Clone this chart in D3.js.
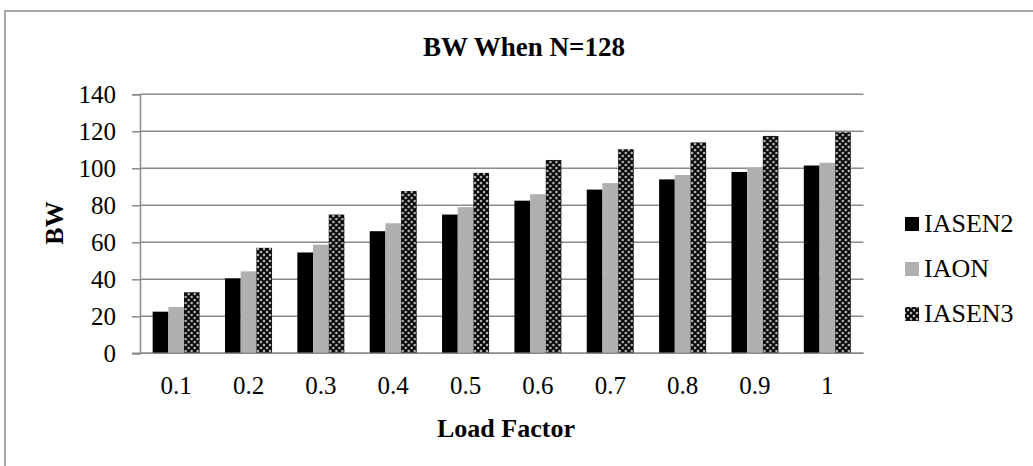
<!DOCTYPE html>
<html>
<head>
<meta charset="utf-8">
<script src="https://cdn.jsdelivr.net/npm/d3@7"></script>
<style>
  html, body { margin: 0; padding: 0; background: #fff; }
  svg { display: block; }
  svg text { font-family: "Liberation Serif", "Times New Roman", serif; fill: #000; }
</style>
</head>
<body>
<svg id="chart" width="1033" height="466"></svg>
<script>
// Bandwidth by load factor for N = 128
const categories = ["0.1", "0.2", "0.3", "0.4", "0.5", "0.6", "0.7", "0.8", "0.9", "1"];
const seriesNames = ["IASEN2", "IAON", "IASEN3"];
const iasen2 = [22.5, 40.5, 54.5, 66, 75, 82.5, 88.5, 94, 98, 101.5];
const iaon   = [25, 44.3, 58.7, 70.3, 79, 86, 92, 96.4, 100.5, 103];
const iasen3 = [33, 57, 75, 87.7, 97.5, 104.5, 110.3, 114, 117.5, 119.5];
const yTicks = [0, 20, 40, 60, 80, 100, 120, 140];

const seriesValues = [iasen2, iaon, iasen3];
const serif = "'Liberation Serif', 'Times New Roman', serif";

const svg = d3.select("#chart");
const plot = { left: 140, right: 863.5, top: 94.3, bottom: 353.3 };

// dark checkered fill for the third series
const defs = svg.append("defs");
const pat = defs.append("pattern")
  .attr("id", "checks")
  .attr("patternUnits", "userSpaceOnUse")
  .attr("width", 6).attr("height", 6);
pat.append("rect").attr("width", 6).attr("height", 6).attr("fill", "#000");
[[0, 0], [6, 0], [0, 6], [6, 6], [3, 3]].forEach(([cx, cy]) => {
  pat.append("circle").attr("cx", cx).attr("cy", cy).attr("r", 1.5).attr("fill", "#777");
  pat.append("circle").attr("cx", cx).attr("cy", cy).attr("r", 0.8).attr("fill", "#fff");
});

const fills = ["#000000", "#b0b0b0", "url(#checks)"];

// outer chart frame
svg.append("path")
  .attr("d", "M1040,11 H5 V470")
  .attr("fill", "none").attr("stroke", "#8a8a8a").attr("stroke-width", 1.5);

const x0 = d3.scaleBand()
  .domain(categories)
  .range([plot.left, plot.right])
  .paddingInner(0.35)
  .paddingOuter(0.175);

const x1 = d3.scaleBand()
  .domain(seriesNames)
  .range([0, x0.bandwidth()]);

const y = d3.scaleLinear()
  .domain([0, 140])
  .range([plot.bottom, plot.top]);

// horizontal gridlines
svg.append("g")
  .selectAll("line")
  .data(yTicks)
  .join("line")
  .attr("x1", plot.left).attr("x2", plot.right)
  .attr("y1", d => y(d)).attr("y2", d => y(d))
  .attr("stroke", "#8a8a8a").attr("stroke-width", 1.5);

// bars
const groups = svg.append("g")
  .selectAll("g")
  .data(categories)
  .join("g")
  .attr("transform", d => `translate(${x0(d)},0)`);

groups.selectAll("rect")
  .data((d, i) => seriesNames.map((s, j) => ({ s, j, v: seriesValues[j][i] })))
  .join("rect")
  .attr("x", d => x1(d.s))
  .attr("width", x1.bandwidth())
  .attr("y", d => y(d.v))
  .attr("height", d => y(0) - y(d.v))
  .attr("fill", d => fills[d.j]);

// y axis
const yAxis = svg.append("g")
  .attr("transform", `translate(${plot.left},0)`)
  .call(d3.axisLeft(y).tickValues(yTicks).tickSize(8).tickPadding(16));
yAxis.select(".domain").attr("stroke", "#8a8a8a").attr("stroke-width", 1.5);
yAxis.selectAll(".tick line").attr("stroke", "#8a8a8a").attr("stroke-width", 1.5);
yAxis.selectAll(".tick text")
  .attr("font-family", serif)
  .attr("font-size", 25).attr("fill", "#000");

// x axis
const xAxis = svg.append("g")
  .attr("transform", `translate(0,${plot.bottom})`)
  .call(d3.axisBottom(x0).tickSize(0).tickPadding(23));
xAxis.select(".domain").remove();
xAxis.selectAll(".tick text")
  .attr("font-family", serif)
  .attr("font-size", 25).attr("fill", "#000");
svg.append("line")
  .attr("x1", plot.left - 8).attr("x2", plot.right)
  .attr("y1", plot.bottom).attr("y2", plot.bottom)
  .attr("stroke", "#8a8a8a").attr("stroke-width", 1.5);

// titles
svg.append("text")
  .attr("x", 524).attr("y", 56)
  .attr("text-anchor", "middle")
  .attr("font-family", serif)
  .attr("font-weight", "bold").attr("font-size", 27)
  .text("BW When N=128");

svg.append("text")
  .attr("x", 506).attr("y", 437)
  .attr("text-anchor", "middle")
  .attr("font-family", serif)
  .attr("font-weight", "bold").attr("font-size", 26)
  .text("Load Factor");

svg.append("text")
  .attr("transform", "translate(63,223) rotate(-90)")
  .attr("text-anchor", "middle")
  .attr("font-family", serif)
  .attr("font-weight", "bold").attr("font-size", 26)
  .text("BW");

// legend
const legend = svg.append("g")
  .selectAll("g")
  .data(seriesNames)
  .join("g")
  .attr("transform", (d, i) => `translate(905,${217 + i * 45})`);
legend.append("rect")
  .attr("width", 14).attr("height", 14)
  .attr("fill", (d, i) => fills[i]);
legend.append("text")
  .attr("x", 19).attr("y", 14.5)
  .attr("font-family", serif)
  .attr("font-size", 26)
  .text(d => d);
</script>
</body>
</html>
